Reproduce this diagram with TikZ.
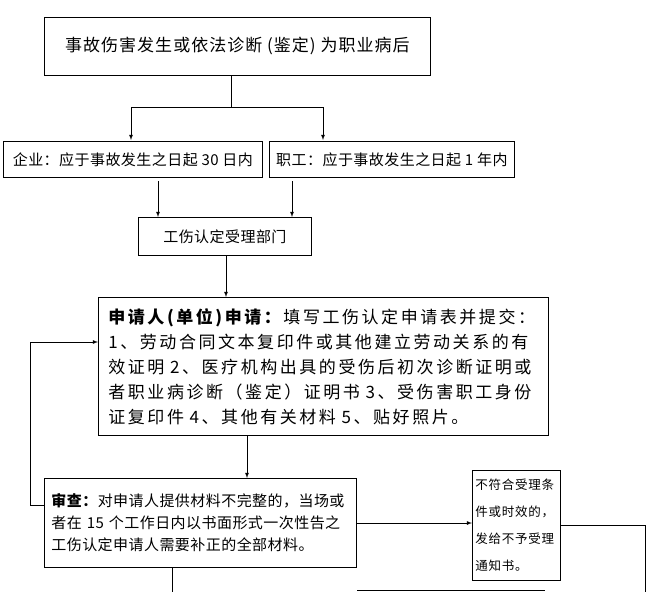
\documentclass[tikz,border=0pt]{standalone}
\usepackage{fontspec}
\setmainfont{Noto Sans CJK SC}
\usetikzlibrary{arrows,positioning}
\begin{document}
\begin{tikzpicture}[x=1pt,y=-1pt,>=latex]

 \tikzstyle{box}=[draw,thick,inner sep=0pt,anchor=north west]
 \tikzstyle{link}=[thick,-{latex[scale=1.4]}]

\useasboundingbox (0,0) rectangle (654,592);

\node[box,minimum width=386pt,minimum height=58pt,font=\fontsize{17}{20}\selectfont\addfontfeature{LetterSpace=6}] (event) at (44,17) {事故伤害发生或依法诊断 (鉴定) 为职业病后};

\node[box,minimum width=259pt,minimum height=36pt,font=\fontsize{15}{18}\selectfont\addfontfeature{LetterSpace=3}] (firm) at (3,141) {企业：应于事故发生之日起 30 日内};
\node[box,minimum width=245pt,minimum height=36pt,font=\fontsize{15}{18}\selectfont\addfontfeature{LetterSpace=3}] (staff) at (269,141) {职工：应于事故发生之日起 1 年内};

\node[box,minimum width=173pt,minimum height=38pt,font=\fontsize{15}{18}\selectfont\addfontfeature{LetterSpace=3}] (dept) at (138,217) {工伤认定受理部门};

\node[box,minimum width=447pt,minimum height=138pt,align=left,text width=430pt,inner xsep=10pt,font=\fontsize{17}{25}\selectfont\addfontfeature{LetterSpace=15}] (apply) at (98,297) {\textbf{申请人(单位)申请：}填写工伤认定申请表并提交：\\
1、劳动合同文本复印件或其他建立劳动关系的有\\
效证明 2、医疗机构出具的受伤后初次诊断证明或\\
者职业病诊断（鉴定）证明书 3、受伤害职工身份\\
证复印件 4、其他有关材料 5、贴好照片。};

\node[box,minimum width=311pt,minimum height=89pt,align=left,text width=298pt,inner xsep=7pt,font=\fontsize{15}{22}\selectfont\addfontfeature{LetterSpace=3}] (check) at (44,478) {\textbf{审查：}对申请人提供材料不完整的，当场或\\
者在 15 个工作日内以书面形式一次性告之\\
工伤认定申请人需要补正的全部材料。};

\node[box,minimum width=88pt,minimum height=110pt,align=left,text width=82pt,inner xsep=3pt,font=\fontsize{12.5}{27}\selectfont\addfontfeature{LetterSpace=6}] (reject) at (472,470) {不符合受理条\\件或时效的，\\发给不予受理\\通知书。};

\coordinate (fork) at (231,107);
\coordinate (loop) at (30,342);
\coordinate (down) at (172,592);
\coordinate (side) at (645,592);

% top split
\draw[thick] (event.south -| fork) -- (fork);
\draw[link] (fork) -| (131,140);
\draw[link] (fork) -| (323,140);

% into dept
\draw[link] (158,181) -- (dept.north -| 158,0);
\draw[link] (292,181) -- (dept.north -| 292,0);

\draw[link] (dept.south -| 226,0) -- (apply.north -| 226,0);
\draw[link] (apply.south -| 247,0) -- (check.north -| 247,0);

% back loop
\draw[link] (check.west |- 0,505) -| (loop) -- (apply.west |- loop);

\draw[link] (check.east |- 0,523) -- (reject.west |- 0,523);
\draw[thick] (reject.east |- 0,525) -| (side);
\draw[thick] (check.south -| down) -- (down);

\draw[thick] (357,590) -- (545,590);

\end{tikzpicture}
\end{document}
